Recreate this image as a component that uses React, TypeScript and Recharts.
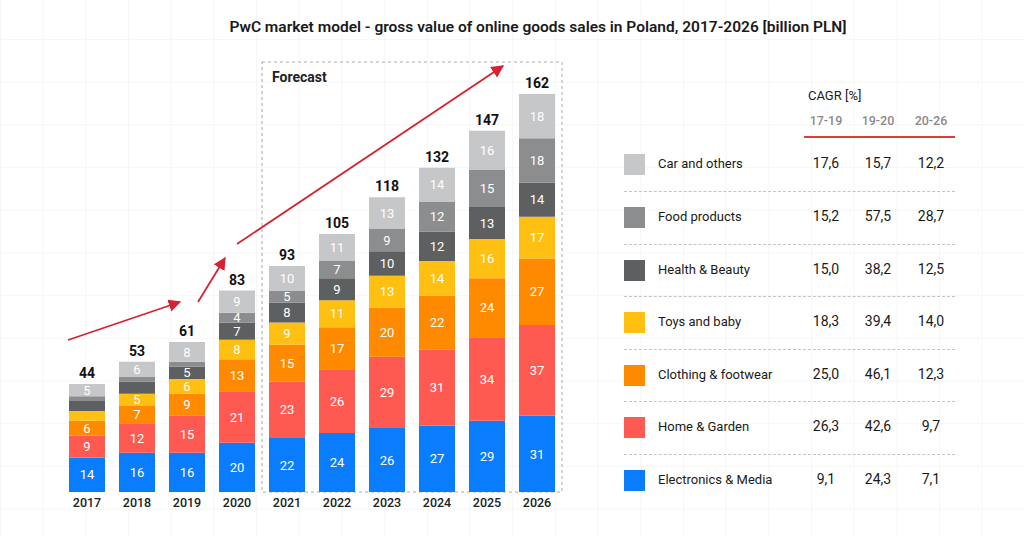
import { BarChart, Bar, XAxis, YAxis, LabelList, ReferenceArea } from 'recharts';

const years = ['2017', '2018', '2019', '2020', '2021', '2022', '2023', '2024', '2025', '2026'];
const electronics = [14, 16, 16, 20, 22, 24, 26, 27, 29, 31];
const homeGarden = [9, 12, 15, 21, 23, 26, 29, 31, 34, 37];
const clothing = [6, 7, 9, 13, 15, 17, 20, 22, 24, 27];
const toys = [4, 5, 6, 8, 9, 11, 13, 14, 16, 17];
const health = [4, 5, 5, 7, 8, 9, 10, 12, 13, 14];
const food = [2, 2, 2, 4, 5, 7, 9, 12, 15, 18];
const carOthers = [5, 6, 8, 9, 10, 11, 13, 14, 16, 18];
const totals = [44, 53, 61, 83, 93, 105, 118, 132, 147, 162];

// segments that carry no value label in the original
const unlabeled: [string, string][] = [
    ['2017', 'toys'], ['2017', 'health'], ['2017', 'food'],
    ['2018', 'health'], ['2018', 'food'],
    ['2019', 'food'],
];

// CAGR table, rows from top (Car and others) to bottom (Electronics & Media)
const cagrPeriods = ['17-19', '19-20', '20-26'];
const cagr1719 = [17.6, 15.2, 15.0, 18.3, 25.0, 26.3, 9.1];
const cagr1920 = [15.7, 57.5, 38.2, 39.4, 46.1, 42.6, 24.3];
const cagr2026 = [12.2, 28.7, 12.5, 14.0, 12.3, 9.7, 7.1];

const series = [
    { key: 'electronics', name: 'Electronics & Media', color: '#0a7dff', values: electronics },
    { key: 'home', name: 'Home & Garden', color: '#ff5a51', values: homeGarden },
    { key: 'clothing', name: 'Clothing & footwear', color: '#ff8a00', values: clothing },
    { key: 'toys', name: 'Toys and baby', color: '#ffc012', values: toys },
    { key: 'health', name: 'Health & Beauty', color: '#5e5f61', values: health },
    { key: 'food', name: 'Food products', color: '#8b8d8f', values: food },
    { key: 'car', name: 'Car and others', color: '#c6c7c9', values: carOthers },
];

const data = years.map((year, i) => {
    const row: Record<string, string | number> = { year, total: totals[i] };
    series.forEach(s => {
        row[s.key] = s.values[i];
        const hidden = unlabeled.some(([y, k]) => y === year && k === s.key);
        row[s.key + 'Label'] = hidden ? '' : s.values[i];
    });
    return row;
});

const tableRows = [...series].reverse();
const cagrCols = [cagr1719, cagr1920, cagr2026];
const colCenters = [826, 878, 931];
const fmt = (v: number) => v.toFixed(1).replace('.', ',');

const FONT = 'Roboto, "Noto Sans", sans-serif';

const Arrows = () => (
    <svg width={1024} height={536} style={{ position: 'absolute', left: 0, top: 0, pointerEvents: 'none' }}>
        <defs>
            <marker id="head" viewBox="0 0 10 10" refX="9" refY="5" markerWidth="7" markerHeight="7" orient="auto">
                <path d="M0,0 L10,5 L0,10 z" fill="#d62232" />
            </marker>
        </defs>
        <line x1={68} y1={340} x2={180} y2={302} stroke="#d62232" strokeWidth={1.8} markerEnd="url(#head)" />
        <line x1={198} y1={302} x2={225} y2={258} stroke="#d62232" strokeWidth={1.8} markerEnd="url(#head)" />
        <line x1={237} y1={244} x2={503} y2={66} stroke="#d62232" strokeWidth={1.8} markerEnd="url(#head)" />
    </svg>
);

export default function App() {
    return (
        <div
            style={{
                position: 'absolute', left: 0, top: 0, width: 1024, height: 536, overflow: 'hidden',
                fontFamily: FONT, color: '#1a1a1a', background: '#fff',
                backgroundImage: 'linear-gradient(to right, #f6f6f6 1px, transparent 1px), linear-gradient(to bottom, #f6f6f6 1px, transparent 1px)',
                backgroundSize: '42.7px 42.7px',
                backgroundPosition: '0px 39px',
            }}
        >
            <div style={{ position: 'absolute', left: 138, top: 18, width: 800, textAlign: 'center', fontSize: 15.5, fontWeight: 600 }}>
                PwC market model - gross value of online goods sales in Poland, 2017-2026 [billion PLN]
            </div>

            <div style={{ position: 'absolute', left: 0, top: 0 }}>
                <BarChart width={600} height={536} data={data} margin={{ top: 62, right: 38, bottom: 14, left: 62 }} barSize={36}>
                    <XAxis dataKey="year" axisLine={false} tickLine={false} tickSize={0} tickMargin={6} height={30}
                        tick={{ fill: '#222', fontSize: 12.5, fontWeight: 500, fontFamily: FONT }} />
                    <YAxis hide domain={[0, 175]} />
                    <ReferenceArea x1="2021" x2="2026" y1={0} y2={175} fill="none" fillOpacity={0}
                        stroke="#aaaaaa" strokeDasharray="3 3"
                        label={{ value: 'Forecast', position: 'insideTopLeft', offset: 10, fill: '#222', fontSize: 14, fontWeight: 700, fontFamily: FONT }} />
                    {series.map(s => (
                        <Bar key={s.key} dataKey={s.key} stackId="a" fill={s.color} isAnimationActive={false}>
                            <LabelList dataKey={s.key + 'Label'} position="center" fill="#fff" fontSize={13} fontFamily={FONT} />
                            {s.key === 'car' && (
                                <LabelList dataKey="total" position="top" offset={6} fill="#111" fontSize={14} fontWeight={700} fontFamily={FONT} />
                            )}
                        </Bar>
                    ))}
                </BarChart>
            </div>

            <Arrows />

            <div style={{ position: 'absolute', left: 808, top: 88, fontSize: 13 }}>CAGR [%]</div>
            {cagrPeriods.map((p, j) => (
                <div key={p} style={{ position: 'absolute', left: colCenters[j] - 30, width: 60, top: 113, textAlign: 'center', fontSize: 12.5, fontWeight: 500, color: '#8a8a8a' }}>
                    {p}
                </div>
            ))}
            <div style={{ position: 'absolute', left: 804, top: 136, width: 151, height: 2, background: '#e0393e' }} />

            {tableRows.map((s, i) => (
                <div
                    key={s.key}
                    style={{
                        position: 'absolute', left: 624, width: 331, top: 138.7 + i * 52.55, height: 52.55,
                        borderTop: i > 0 ? '1px dashed #c4c4c4' : 'none', boxSizing: 'border-box',
                    }}
                >
                    <div style={{ position: 'absolute', left: 0, top: 15, width: 21, height: 21, background: s.color }} />
                    <div style={{ position: 'absolute', left: 34, top: 17, fontSize: 13 }}>{s.name}</div>
                    {cagrCols.map((col, j) => (
                        <div key={j} style={{ position: 'absolute', left: colCenters[j] - 624 - 30, width: 60, top: 16, textAlign: 'center', fontSize: 14 }}>
                            {fmt(col[i])}
                        </div>
                    ))}
                </div>
            ))}
        </div>
    );
}
